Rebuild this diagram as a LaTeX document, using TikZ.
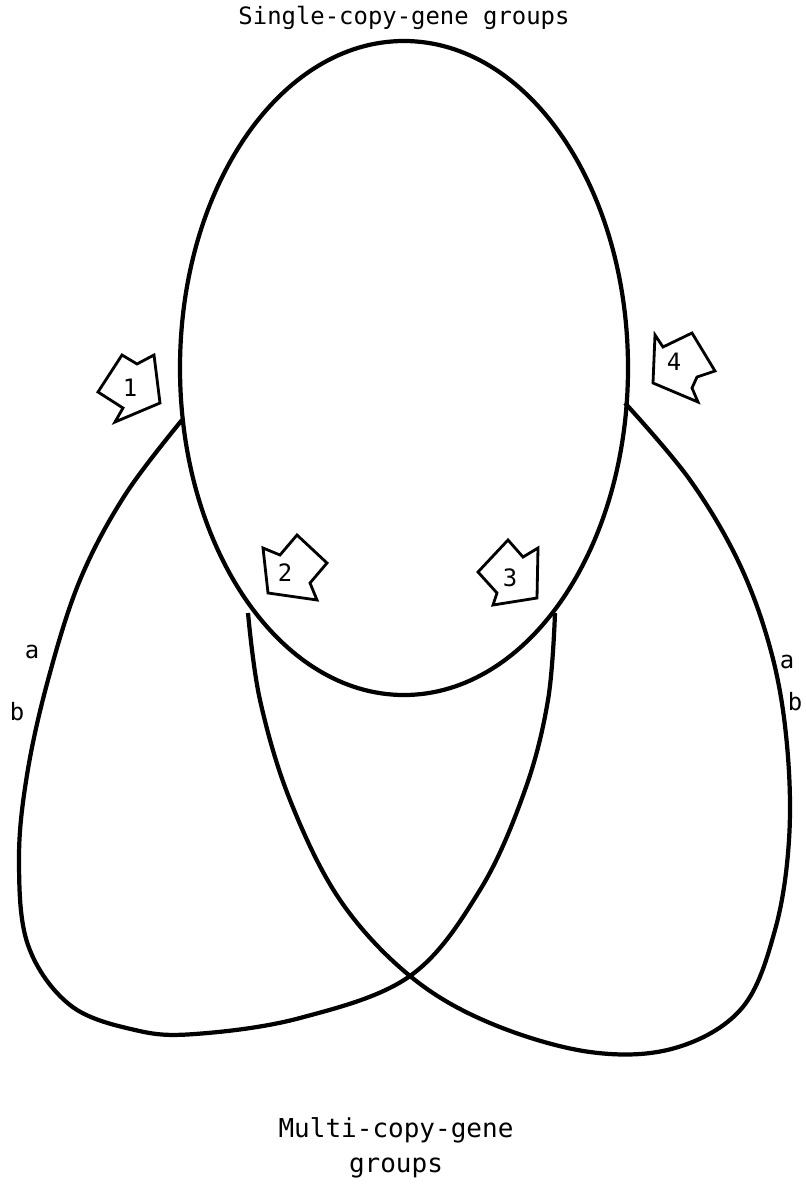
\documentclass[tikz,border=0pt]{standalone}
\usepackage{fontspec}
\newfontfamily\typefont{DejaVu Sans Mono}
\usetikzlibrary{positioning}

\begin{document}
\begin{tikzpicture}[x=0.025cm,y=-0.025cm,
  loopline/.style={line width=3pt, line join=round},
  pointer/.style={line width=2pt, line join=miter, fill=white},
  grouplabel/.style={font=\typefont\fontsize{18.5}{25}\selectfont, align=center},
  tag/.style={font=\typefont\fontsize{17}{19}\selectfont, inner sep=0pt}]
  \useasboundingbox (0,0) rectangle (805,1184);
  % Single-copy groups (top oval)
  \draw[loopline] (404,368) ellipse[x radius=224, y radius=327];
  % Multi-copy loop, left
  \draw[loopline] plot[smooth, tension=0.6] coordinates {(182,420) (125,495) (80,580)
    (48,680) (27,775) (19,860) (28,945) (70,1005) (135,1030) (195,1034) (300,1018)
    (410,976) (480,890) (525,790) (548,700) (555,613)};
  % Multi-copy loop, right
  \draw[loopline] plot[smooth, tension=0.6] coordinates {(625,403) (690,480) (740,565)
    (772,655) (787,745) (789,840) (775,930) (742,1008) (675,1048) (590,1052) (490,1023)
    (410,976) (340,900) (290,800) (260,700) (248,613)};
  % Pointers
  \draw[pointer] (122,355) -- (137,364) -- (154,355) -- (160,403) -- (115,422)
    -- (123,408) -- (98,392) -- cycle;
  \node[tag] (p1) at (130,388) {1};
  \draw[pointer] (263,548) -- (280,555) -- (297,535) -- (327,563) -- (310,583)
    -- (317,600) -- (268,593) -- cycle;
  \node[tag] (p2) at (285,573) {2};
  \draw[pointer] (508,540) -- (523,557) -- (538,548) -- (537,598) -- (493,605)
    -- (497,593) -- (478,572) -- cycle;
  \node[tag] (p3) at (510,578) {3};
  \draw[pointer] (655,335) -- (663,347) -- (692,333) -- (715,371) -- (697,377)
    -- (692,388) -- (698,402) -- (653,383) -- cycle;
  \node[tag] (p4) at (674,362) {4};
  % a / b marks
  \node[tag] (al) at (32,652) {a};
  \node[tag] (bl) at (17,712) {b};
  \node[tag] (ar) at (787,662) {a};
  \node[tag] (br) at (795,702) {b};
  % Group names
  \node[grouplabel, font=\typefont\fontsize{17}{20}\selectfont] (single) at (404,18) {Single-copy-gene groups};
  \node[grouplabel] (multi) at (396,1148) {Multi-copy-gene\\groups};
\end{tikzpicture}
\end{document}
